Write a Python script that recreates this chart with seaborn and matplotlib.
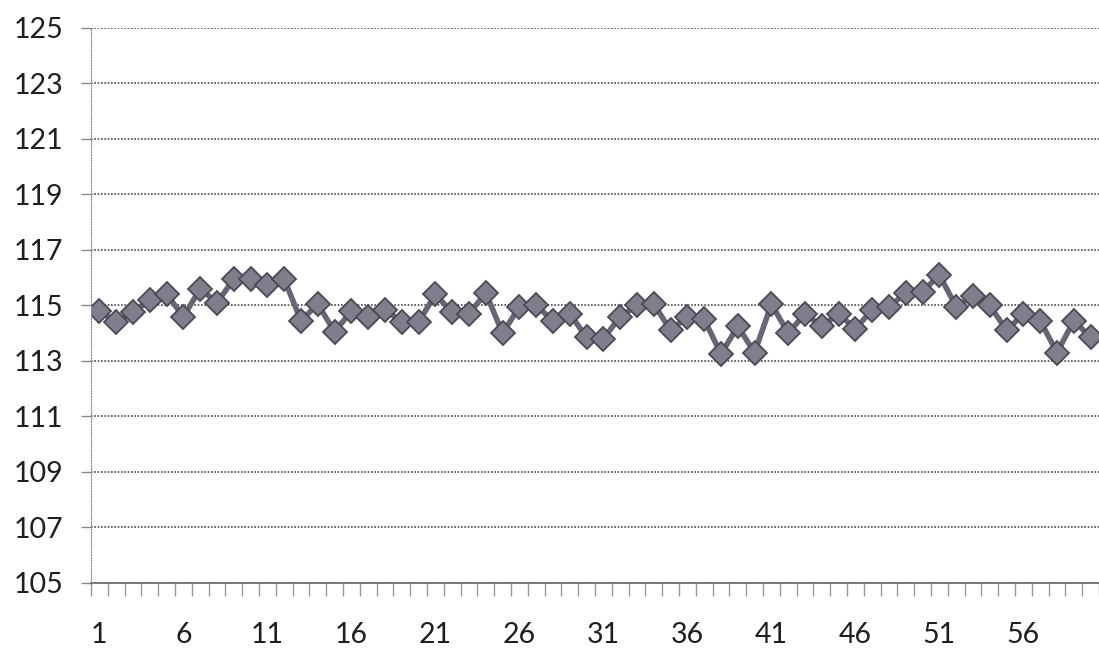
import numpy as np
import pandas as pd
import matplotlib
matplotlib.use("Agg")
from matplotlib import pyplot as plt
from matplotlib.ticker import FixedLocator
import seaborn as sns

# readings 1..60
points = list(range(1, 61))
values = [114.8, 114.4, 114.75, 115.2, 115.4, 114.6, 115.6, 115.1, 115.95, 115.95,
          115.75, 115.95, 114.45, 115.05, 114.05, 114.8, 114.6, 114.85, 114.4, 114.4,
          115.4, 114.75, 114.7, 115.45, 114.0, 114.95, 115.0, 114.45, 114.7, 113.85,
          113.8, 114.6, 115.0, 115.05, 114.1, 114.6, 114.5, 113.25, 114.25, 113.3,
          115.05, 114.0, 114.7, 114.25, 114.7, 114.15, 114.85, 114.95, 115.45, 115.5,
          116.1, 114.95, 115.35, 115.0, 114.1, 114.7, 114.45, 113.3, 114.45, 113.85]
ytick_vals = list(range(105, 126, 2))
xtick_vals = list(range(1, 61, 5))

df = pd.DataFrame({"point": points, "value": values})

sns.set_style("white")
plt.rcParams['font.family'] = ['Lato', 'DejaVu Sans']

fig = plt.figure(figsize=(10.99, 6.49), dpi=100)
ax = fig.add_axes([0.0828, 0.1017, 0.9172, 0.8553])

sns.lineplot(data=df, x="point", y="value", ax=ax, color="#666674",
             linewidth=4, marker="D", markersize=12.5,
             markerfacecolor="#7e7e8c", markeredgecolor="#4a4a55",
             markeredgewidth=1.3)

ax.set_xlim(0.5, 60.5)
ax.set_ylim(105, 125)
ax.set_yticks(ytick_vals)
ax.set_xticks(xtick_vals)
ax.xaxis.set_minor_locator(FixedLocator(np.arange(0.5, 61, 1)))
ax.set_xlabel("")
ax.set_ylabel("")

ax.yaxis.grid(True, color="#4a4a4a", linestyle=(0, (1, 1)), linewidth=1.2)
ax.xaxis.grid(False)

for side in ["top", "right"]:
    ax.spines[side].set_visible(False)
ax.spines["left"].set_color("#888888")
ax.spines["left"].set_linestyle((0, (1, 1.5)))
ax.spines["bottom"].set_color("#666666")
ax.spines["bottom"].set_linewidth(1.2)

ax.tick_params(axis="y", which="major", length=7, width=1, color="#888888",
               pad=13, labelsize=20.5, labelcolor="#1e1e1e", left=True)
ax.tick_params(axis="x", which="major", length=0, pad=28, labelsize=20.5,
               labelcolor="#1e1e1e")
ax.tick_params(axis="x", which="minor", length=9, width=1, color="#999999",
               direction="out", bottom=True)

fig.savefig("out.png", dpi=100)
